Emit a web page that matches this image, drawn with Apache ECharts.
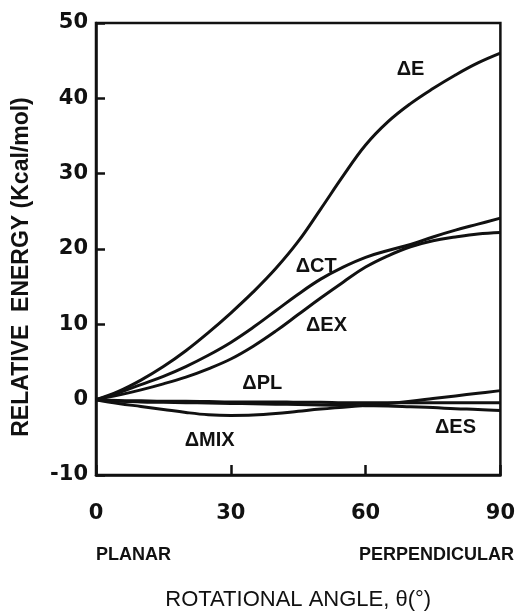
<!DOCTYPE html>
<html>
<head>
<meta charset="utf-8">
<script src="https://cdn.jsdelivr.net/npm/echarts@6/dist/echarts.min.js"></script>
<style>
    html, body { margin: 0; padding: 0; background: #fff; }
    #main { width: 518px; height: 616px; }
</style>
</head>
<body>
<div id="main"></div>
<script>
// rotational angle (deg)
const angles = [0, 5, 10, 15, 20, 25, 30, 35, 40, 45, 50, 55, 60, 65, 70, 75, 80, 85, 90];

// relative energy values (kcal/mol)
const dE   = [0, 1.1, 2.6, 4.4, 6.5, 8.9, 11.5, 14.3, 17.4, 21.0, 25.3, 29.7, 33.8, 36.9, 39.3, 41.3, 43.1, 44.7, 46.0];
const dCT  = [0, 0.9, 2.0, 3.1, 4.4, 5.9, 7.6, 9.6, 11.8, 14.0, 16.0, 17.6, 18.9, 19.8, 20.6, 21.6, 22.5, 23.3, 24.1];
const dEX  = [0, 0.6, 1.3, 2.1, 3.0, 4.1, 5.4, 7.1, 9.1, 11.3, 13.5, 15.6, 17.6, 19.1, 20.3, 21.1, 21.6, 22.0, 22.2];
const dPL  = [0, -0.1, -0.15, -0.2, -0.2, -0.25, -0.3, -0.3, -0.3, -0.35, -0.35, -0.4, -0.4, -0.4, -0.4, -0.4, -0.4, -0.4, -0.4];
const dES  = [0, -0.2, -0.3, -0.35, -0.4, -0.45, -0.5, -0.55, -0.6, -0.65, -0.7, -0.75, -0.8, -0.85, -0.95, -1.05, -1.2, -1.3, -1.45];
const dMIX = [0, -0.5, -0.9, -1.3, -1.7, -2.0, -2.1, -2.05, -1.85, -1.55, -1.25, -1.0, -0.75, -0.5, -0.2, 0.15, 0.5, 0.85, 1.2];

// curve labels: [angle, energy, text]
const curveLabels = [
    [70, 43.8, 'ΔE'],
    [49, 17.7, 'ΔCT'],
    [51.3, 9.9, 'ΔEX'],
    [37, 2.1, 'ΔPL'],
    [25.3, -5.4, 'ΔMIX'],
    [80, -3.7, 'ΔES']
];

const ink = '#111';

function makeLine(name, values) {
    return {
        name: name,
        type: 'line',
        data: angles.map((a, i) => [a, values[i]]),
        smooth: 0.4,
        showSymbol: false,
        lineStyle: { color: ink, width: 3 },
        z: 3
    };
}

let option = {
    animation: false,
    backgroundColor: '#fff',
    grid: {
        left: 96, right: 17, top: 23, bottom: 138,
        show: true, borderColor: ink, borderWidth: 2.5
    },
    xAxis: {
        type: 'value',
        min: 0, max: 90, interval: 30,
        name: 'ROTATIONAL ANGLE, θ(°)',
        nameLocation: 'middle',
        nameGap: 114,
        nameTextStyle: { color: ink, fontFamily: 'Liberation Sans', fontSize: 22 },
        axisLine: { show: true, onZero: false, lineStyle: { color: ink, width: 2.5 } },
        axisTick: { show: true, inside: true, length: 10, lineStyle: { color: ink, width: 2.5 } },
        axisLabel: { color: ink, fontFamily: 'DejaVu Sans', fontWeight: 'bold', fontSize: 21, margin: 28 },
        splitLine: { show: false }
    },
    yAxis: {
        type: 'value',
        min: -10, max: 50, interval: 10,
        name: 'RELATIVE  ENERGY (Kcal/mol)',
        nameLocation: 'middle',
        nameGap: 63,
        nameTextStyle: {
            color: ink, fontFamily: 'Liberation Sans', fontWeight: 'bold', fontSize: 23,
            padding: [0, 36, 0, 0]
        },
        axisLine: { show: true, onZero: false, lineStyle: { color: ink, width: 2.5 } },
        axisTick: { show: true, inside: true, length: 9, lineStyle: { color: ink, width: 2.5 } },
        axisLabel: { color: ink, fontFamily: 'DejaVu Sans', fontWeight: 'bold', fontSize: 21, margin: 8 },
        splitLine: { show: false }
    },
    graphic: [
        {
            type: 'text', left: 96, top: 546,
            style: { text: 'PLANAR', fill: ink, font: 'bold 18px "Liberation Sans"' }
        },
        {
            type: 'text', right: 4, top: 546,
            style: { text: 'PERPENDICULAR', fill: ink, font: 'bold 18px "Liberation Sans"' }
        }
    ],
    series: [
        makeLine('ΔE', dE),
        makeLine('ΔCT', dCT),
        makeLine('ΔEX', dEX),
        makeLine('ΔPL', dPL),
        makeLine('ΔES', dES),
        makeLine('ΔMIX', dMIX),
        {
            name: 'labels',
            type: 'scatter',
            symbol: 'circle',
            symbolSize: 0,
            silent: true,
            data: curveLabels.map(d => ({ value: [d[0], d[1]], name: d[2] })),
            label: {
                show: true,
                position: [0, 0],
                align: 'center',
                verticalAlign: 'middle',
                formatter: '{b}',
                color: ink,
                opacity: 1,
                fontFamily: 'Liberation Sans',
                fontWeight: 'bold',
                fontSize: 20
            },
            z: 5
        }
    ]
};

var myChart = echarts.init(document.getElementById('main'));
myChart.setOption(option);
</script>
</body>
</html>
